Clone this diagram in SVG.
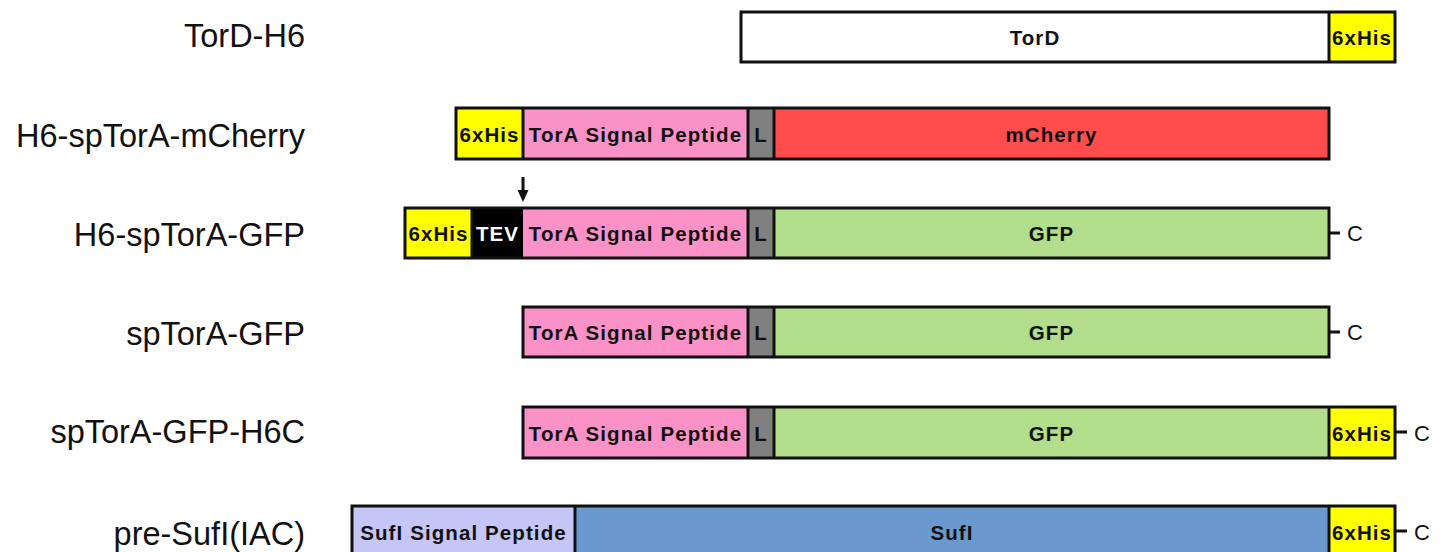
<svg xmlns="http://www.w3.org/2000/svg" width="1446" height="552" viewBox="0 0 1446 552">
  <style>
    .name { font-family: "Liberation Sans", Arial, sans-serif; font-size: 32.5px; fill: #111; text-anchor: end; }
    .seg { stroke: none; }
    .frame { fill: none; stroke: #111; stroke-width: 3; }
    .div { stroke: #111; stroke-width: 3; }
    .lbl { font-family: "Liberation Sans", Arial, sans-serif; font-size: 20.5px; font-weight: bold; letter-spacing: 1.1px; fill: #111; text-anchor: middle; }
    .wht { fill: #fff; }
    .cterm { font-family: "Liberation Sans", Arial, sans-serif; font-size: 22px; fill: #111; }
    .tick { stroke: #111; stroke-width: 3; }
    .his { fill: #ffff00; }
    .sp { fill: #fa92c8; }
    .lnk { fill: #808080; }
    .gfp { fill: #b2dd8b; }
    .cherry { fill: #ff4c4c; }
    .tev { fill: #000; }
    .torD { fill: #fff; }
    .sufsp { fill: #c6c6f6; }
    .sufi { fill: #6a99cf; }
  </style>

  <!-- construct names -->
  <g id="names">
    <text class="name" x="305" y="47">TorD-H6</text>
    <text class="name" x="305" y="147">H6-spTorA-mCherry</text>
    <text class="name" x="305" y="246">H6-spTorA-GFP</text>
    <text class="name" x="305" y="345">spTorA-GFP</text>
    <text class="name" x="305" y="443">spTorA-GFP-H6C</text>
    <text class="name" x="305" y="545">pre-SufI(IAC)</text>
  </g>

  <!-- TorD-H6 -->
  <g id="torD-h6">
    <rect class="seg torD" x="741" y="12" width="588" height="50"/>
    <rect class="seg his" x="1329" y="12" width="66" height="50"/>
    <line class="div" x1="1329" y1="12" x2="1329" y2="62"/>
    <rect class="frame" x="741" y="12" width="654" height="50"/>
    <text class="lbl" x="1035" y="45">TorD</text>
    <text class="lbl" x="1362" y="45">6xHis</text>
  </g>

  <!-- H6-spTorA-mCherry -->
  <g id="h6-sptora-mcherry">
    <rect class="seg his" x="456" y="108" width="67" height="51"/>
    <rect class="seg sp" x="523" y="108" width="225" height="51"/>
    <rect class="seg lnk" x="748" y="108" width="26" height="51"/>
    <rect class="seg cherry" x="774" y="108" width="555" height="51"/>
    <line class="div" x1="523" y1="108" x2="523" y2="159"/>
    <line class="div" x1="748" y1="108" x2="748" y2="159"/>
    <line class="div" x1="774" y1="108" x2="774" y2="159"/>
    <rect class="frame" x="456" y="108" width="873" height="51"/>
    <text class="lbl" x="489.5" y="142">6xHis</text>
    <text class="lbl" x="635.5" y="142">TorA Signal Peptide</text>
    <text class="lbl" x="761" y="142">L</text>
    <text class="lbl" x="1051.5" y="142">mCherry</text>
  </g>

  <!-- H6-spTorA-GFP -->
  <g id="h6-sptora-gfp">
    <rect class="seg his" x="405" y="208" width="67" height="50"/>
    <rect class="seg tev" x="472" y="208" width="51" height="50"/>
    <rect class="seg sp" x="523" y="208" width="225" height="50"/>
    <rect class="seg lnk" x="748" y="208" width="26" height="50"/>
    <rect class="seg gfp" x="774" y="208" width="555" height="50"/>
    <line class="div" x1="472" y1="208" x2="472" y2="258"/>
    <line class="div" x1="748" y1="208" x2="748" y2="258"/>
    <line class="div" x1="774" y1="208" x2="774" y2="258"/>
    <rect class="frame" x="405" y="208" width="924" height="50"/>
    <text class="lbl" x="438.5" y="241">6xHis</text>
    <text class="lbl wht" x="497.5" y="241">TEV</text>
    <text class="lbl" x="635.5" y="241">TorA Signal Peptide</text>
    <text class="lbl" x="761" y="241">L</text>
    <text class="lbl" x="1051.5" y="241">GFP</text>
    <text class="cterm" x="1347" y="241">C</text>
  </g>

  <!-- spTorA-GFP -->
  <g id="sptora-gfp">
    <rect class="seg sp" x="523" y="307" width="225" height="50"/>
    <rect class="seg lnk" x="748" y="307" width="26" height="50"/>
    <rect class="seg gfp" x="774" y="307" width="555" height="50"/>
    <line class="div" x1="748" y1="307" x2="748" y2="357"/>
    <line class="div" x1="774" y1="307" x2="774" y2="357"/>
    <rect class="frame" x="523" y="307" width="806" height="50"/>
    <text class="lbl" x="635.5" y="340">TorA Signal Peptide</text>
    <text class="lbl" x="761" y="340">L</text>
    <text class="lbl" x="1051.5" y="340">GFP</text>
    <text class="cterm" x="1347" y="340">C</text>
  </g>

  <!-- spTorA-GFP-H6C -->
  <g id="sptora-gfp-h6c">
    <rect class="seg sp" x="523" y="407" width="225" height="51"/>
    <rect class="seg lnk" x="748" y="407" width="26" height="51"/>
    <rect class="seg gfp" x="774" y="407" width="555" height="51"/>
    <rect class="seg his" x="1329" y="407" width="66" height="51"/>
    <line class="div" x1="748" y1="407" x2="748" y2="458"/>
    <line class="div" x1="774" y1="407" x2="774" y2="458"/>
    <line class="div" x1="1329" y1="407" x2="1329" y2="458"/>
    <rect class="frame" x="523" y="407" width="872" height="51"/>
    <text class="lbl" x="635.5" y="441">TorA Signal Peptide</text>
    <text class="lbl" x="761" y="441">L</text>
    <text class="lbl" x="1051.5" y="441">GFP</text>
    <text class="lbl" x="1362" y="441">6xHis</text>
    <text class="cterm" x="1414" y="441">C</text>
  </g>

  <!-- pre-SufI(IAC) -->
  <g id="pre-sufi-iac">
    <rect class="seg sufsp" x="352" y="506" width="223" height="51"/>
    <rect class="seg sufi" x="575" y="506" width="754" height="51"/>
    <rect class="seg his" x="1329" y="506" width="66" height="51"/>
    <line class="div" x1="575" y1="506" x2="575" y2="557"/>
    <line class="div" x1="1329" y1="506" x2="1329" y2="557"/>
    <rect class="frame" x="352" y="506" width="1043" height="51"/>
    <text class="lbl" x="463.5" y="540">SufI Signal Peptide</text>
    <text class="lbl" x="952" y="540">SufI</text>
    <text class="lbl" x="1362" y="540">6xHis</text>
    <text class="cterm" x="1414" y="540">C</text>
  </g>

  <!-- C-terminal ticks and TEV cleavage arrow -->
  <g id="connectors">
    <line class="tick" x1="1329" y1="233" x2="1340" y2="233"/>
    <line class="tick" x1="1329" y1="332" x2="1340" y2="332"/>
    <line class="tick" x1="1395" y1="432" x2="1407" y2="432"/>
    <line class="tick" x1="1395" y1="531" x2="1407" y2="531"/>
    <line x1="523" y1="177" x2="523" y2="192" stroke="#111" stroke-width="3"/>
    <polygon points="517.5,190 528.5,190 523,202" fill="#111"/>
  </g>
</svg>
